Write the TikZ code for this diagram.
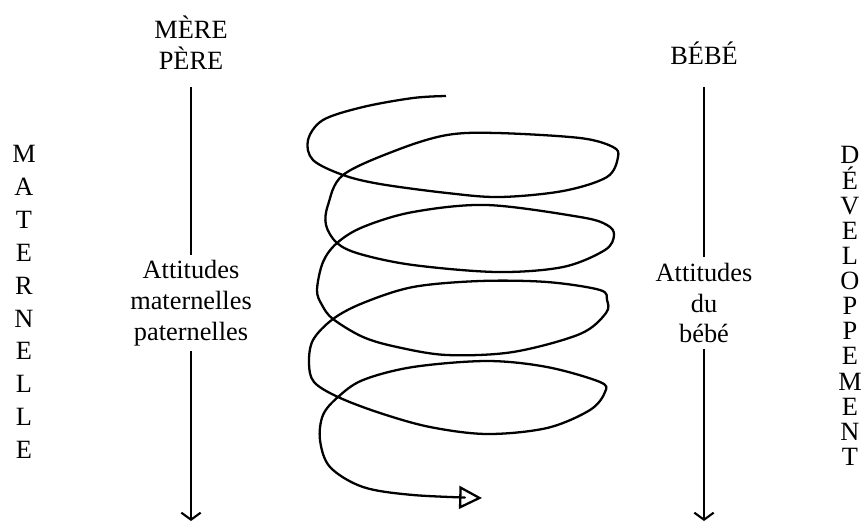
\documentclass[tikz,border=0pt]{standalone}
\usepackage{fontspec}
\setmainfont{Liberation Serif}
\usetikzlibrary{arrows.meta}
\tikzset{
  headText/.style={font=\fontsize{15}{17.5}\selectfont, align=center, inner sep=3pt},
  colText/.style={font=\fontsize{15}{#1}\selectfont, align=center, inner sep=0pt},
  axisLine/.style={line width=1.2pt},
  downArrow/.style={axisLine, -{Straight Barb[length=4pt,width=11pt]}},
  spiralLine/.style={line width=1.3pt, line join=round, -{Triangle[open,length=13pt,width=13pt]}}
}
\begin{document}
\begin{tikzpicture}[x=0.02cm, y=-0.02cm]
  \useasboundingbox (0,0) rectangle (866,522);
  % headers
  \node[headText] (MP) at (191,43) {MÈRE\\PÈRE};
  \node[headText] (BB) at (704,53) {BÉBÉ};
  % side columns
  \node[colText=18.7] (MAT) at (24,302) {M\\A\\T\\E\\R\\N\\E\\L\\L\\E};
  \node[colText=14.3] (DEV) at (850,306) {D\\É\\V\\E\\L\\O\\P\\P\\E\\M\\E\\N\\T};
  % attitudes
  \node[headText] (AM) at (191,303) {Attitudes\\maternelles\\paternelles};
  \node[headText] (AB) at (704,303) {Attitudes\\du\\bébé};
  \coordinate (MPtop) at (191,87);
  \coordinate (MPbot) at (191,521);
  \coordinate (BBtop) at (704,87);
  \coordinate (BBbot) at (704,521);
  \draw[axisLine] (MPtop) -- (AM.north);
  \draw[downArrow] (AM.south) -- (MPbot);
  \draw[axisLine] (BBtop) -- (AB.north);
  \draw[downArrow] (AB.south) -- (BBbot);
  % spiral
  \draw[spiralLine] plot[smooth, tension=0.55] coordinates {
    (446,96) (413,98) (363,107) (323,120) (308,140) (313,160) (343,175)
    (380,184) (447,193) (500,197) (563,191) (607,177) (618,157)
    (613,147) (580,138) (497,133) (447,135) (397,150) (343,175)
    (328,205) (326,225) (337,243)
    (360,254) (413,265) (497,272) (563,267) (605,250) (614,235)
    (607,225) (580,217) (487,205) (413,212) (363,227) (337,243)
    (323,262) (317,290) (322,305) (333,319)
    (363,337) (397,347) (447,355) (513,352) (580,334) (606,313) (607,300)
    (600,290) (547,282) (480,281) (413,287) (363,303) (333,319)
    (313,340) (309,363) (314,382) (338,397)
    (380,413) (430,427) (487,434) (547,428) (590,410) (605,392)
    (600,382) (547,367) (487,361) (413,367) (363,380) (338,397)
    (323,415) (320,440) (330,467) (363,487) (413,495) (482,498)};
\end{tikzpicture}
\end{document}
